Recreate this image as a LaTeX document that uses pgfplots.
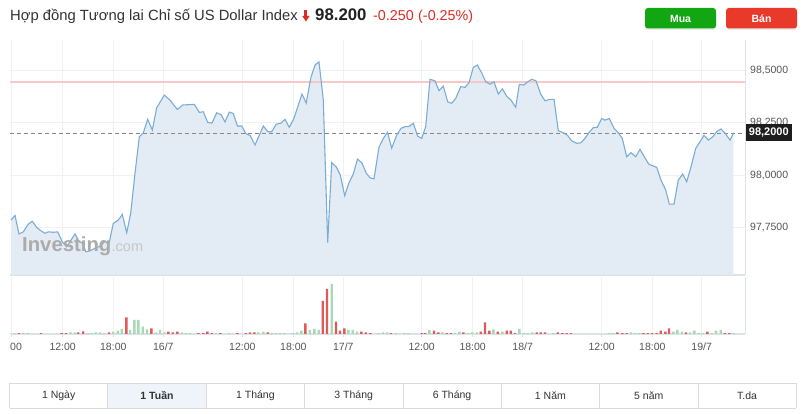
\documentclass[border=0pt]{standalone}
\usepackage{pgfplots}
\pgfplotsset{compat=1.18}
\usepackage{pgfplotstable}
\usepackage{fontspec}
\setmainfont{Liberation Sans}
\definecolor{linecol}{HTML}{7AADD6}
\definecolor{fillcol}{HTML}{E3ECF4}
\definecolor{redline}{HTML}{F7C8C8}
\definecolor{dashcol}{HTML}{888888}
\definecolor{gridcol}{HTML}{F1F1F1}
\definecolor{axisgrey}{HTML}{DDE2E6}
\definecolor{bordergrey}{HTML}{E2E2E2}
\definecolor{ticktext}{HTML}{555555}
\definecolor{volgreen}{HTML}{A6D9B4}
\definecolor{volred}{HTML}{E05A5A}
\definecolor{titlecol}{HTML}{333333}
\definecolor{pricecol}{HTML}{222222}
\definecolor{chgred}{HTML}{DC2B22}
\definecolor{buygreen}{HTML}{12A712}
\definecolor{sellred}{HTML}{E9392B}
\definecolor{pricebox}{HTML}{1E1E1E}
\definecolor{cellborder}{HTML}{DADADA}
\definecolor{cellsel}{HTML}{EEF4FA}
\definecolor{wmgrey}{HTML}{ABABAB}
\definecolor{wmlight}{HTML}{C6C6C6}

\pgfplotstableread{
x y
11 97.787
15 97.809
19 97.721
23.3 97.731
28.3 97.768
32.3 97.781
36.7 97.752
41 97.736
45 97.724
48.3 97.731
53.3 97.729
57.7 97.731
62.3 97.684
66.7 97.660
71 97.692
75 97.721
79 97.684
82 97.680
86 97.636
90 97.641
95 97.653
100 97.663
105 97.686
109 97.676
113.3 97.771
118.3 97.787
122.3 97.814
126.7 97.727
130.7 97.819
135 98.009
139.3 98.183
143.3 98.202
147.7 98.266
152.3 98.215
156.7 98.321
164.3 98.381
170 98.357
177.3 98.313
182.7 98.334
194.3 98.337
199.3 98.299
203.3 98.302
207.7 98.251
212 98.248
216.7 98.297
221 98.288
225 98.254
229.3 98.300
233.3 98.294
237.5 98.234
241.7 98.234
245.7 98.199
250.3 98.188
255 98.144
263.3 98.234
268 98.207
271.7 98.207
276.3 98.243
280.8 98.247
285 98.266
289.2 98.228
293.7 98.267
302 98.386
306.2 98.343
310.8 98.463
315 98.524
319 98.539
323.3 98.359
327.7 97.680
331.7 98.060
336.3 98.039
340.3 98.001
344.7 97.903
349 97.965
353.3 98.006
357.5 98.077
362 98.058
366.3 98.010
370 97.988
374 97.983
379 98.133
383.3 98.175
387.5 98.205
391.7 98.129
396.7 98.191
401 98.223
405 98.231
409 98.232
413.3 98.247
417.7 98.186
421.7 98.175
425.7 98.231
430 98.456
435 98.449
439 98.402
443.3 98.424
447.7 98.349
451.7 98.342
455.7 98.365
460.7 98.421
465 98.418
469 98.440
473.3 98.513
477.3 98.524
481.7 98.487
485.7 98.444
490 98.433
494 98.444
498.3 98.386
502.3 98.411
506.7 98.376
511 98.357
515.7 98.323
519.3 98.432
523.7 98.429
527.7 98.444
531.7 98.456
536 98.449
540.7 98.386
545 98.354
550 98.361
554 98.361
558.3 98.212
563.3 98.202
567.3 98.191
571.7 98.164
576.7 98.152
580.7 98.154
585 98.175
589.3 98.205
593.3 98.226
597.3 98.228
601.7 98.270
605 98.262
609.3 98.270
614 98.223
618.3 98.202
622.3 98.175
626.7 98.088
631 98.107
635.7 98.088
640 98.123
644.3 98.088
648.7 98.053
653.3 98.044
656.7 98.038
661 97.977
665.7 97.930
669.3 97.863
674 97.863
678.3 97.977
682.7 98.006
686.7 97.969
691 98.040
695.7 98.128
699.3 98.154
704 98.190
708.3 98.167
712.7 98.183
716.7 98.207
721 98.220
725.7 98.196
730 98.167
733.3 98.199
}\price

\pgfplotstableread{
x v
14.3 0.8
23.3 0.8
27.7 0.8
70.7 1.7
75 1.7
87.7 0.8
91.7 0.8
95.7 1.7
100 1.7
104.3 0.8
113.3 2.3
117.7 3.3
121.7 5
130 4
134.3 14
138.3 14
142.7 7.3
147 4.7
155.7 1.7
160 4
164.3 1.7
181.7 1.7
186 0.8
190.3 0.8
216 0.8
229 0.8
258.3 1.7
263.3 2.3
271.7 0.8
275.7 0.8
280 0.8
284.3 0.8
292.7 0.8
297 1.7
301.3 3.3
309.7 4
314.3 5
318.7 4
331.7 50
348.3 4
352.7 4
357 2.3
378.3 0.8
382.7 1.7
387.3 1.7
396 0.8
404.3 0.8
408.3 0.8
429.3 4
442.3 1.7
455 0.8
459.3 2.3
467.7 0.8
472.3 1.7
476.7 1.7
493.3 4.7
502.3 2.3
519.3 5
524 0.8
527.7 0.8
532.3 1.7
553.3 0.8
609.3 0.8
613.3 0.8
631 1.7
635 0.8
639.3 0.8
673.3 2.3
677.3 4
682 2.3
690 1.7
694.3 3.3
698.7 0.8
702.7 0.8
711.7 0.8
716 3.3
720.7 4
733.3 0.8
}\volup

\pgfplotstableread{
x v
19 0.8
41 0.8
61.7 0.8
66 0.8
78.3 1.7
83.3 2.7
109 1.7
126.3 16.7
151.3 5.7
168.3 2.3
172.7 1.7
177.3 2.3
198.3 0.8
203.3 0.8
207.3 2.3
211.7 0.8
220.3 0.8
237.3 0.8
245.7 0.8
250 1.7
254.3 1.7
267.7 1.7
305.3 10.7
322.7 33
327 45
336 12.3
340 3.3
344.3 5.7
361.3 2.3
365.7 1.7
370.3 0.8
391 0.8
421.7 0.8
425 0.8
434 3.3
438.3 1.7
446.7 0.8
451 0.8
463.3 1.7
480.7 2.3
485 11.7
489.3 3.3
497.7 2.3
506.7 3.3
510.7 3.3
515 0.8
536.7 1.7
540.7 1.7
545 1.7
557.7 1.7
562.3 0.8
566.7 0.8
571 0.8
617.3 1.7
622.3 0.8
626.7 0.8
643.3 0.8
647.7 0.8
652 0.8
656.7 0.8
660.7 3.3
665.3 2.3
669 5.7
686 1.7
707.3 2.3
724.7 0.8
729.3 0.8
}\voldown

\begin{document}
\begin{tikzpicture}[x=1pt,y=1pt]
\useasboundingbox (0,0) rectangle (807,414);
\fill[white] (0,0) rectangle (807,414);

% ---- title ----
\node[anchor=base west, inner sep=0pt, font=\fontsize{14.8}{17}\selectfont, text=titlecol] at (10,393) {Hợp đồng Tương lai Chỉ số US Dollar Index};
\fill[chgred] (304.4,403.5) rectangle (307.4,397.5);
\fill[chgred] (302.3,398) -- (309.5,398) -- (305.9,392.5) -- cycle;
\node[anchor=base west, inner sep=0pt, font=\bfseries\fontsize{16.8}{19}\selectfont, text=pricecol] at (315,393) {98.200};
\node[anchor=base west, inner sep=0pt, font=\fontsize{14.3}{16}\selectfont, text=chgred] at (373,393) {-0.250\hspace{4.5pt}(-0.25\%)};

% ---- buttons ----
\fill[black!8, rounded corners=3pt] (645,384) rectangle (716,405);
\fill[buygreen, rounded corners=3pt] (645,385.5) rectangle (716,406);
\node[text=white, font=\bfseries\fontsize{10.5}{12}\selectfont] at (680.5,395.5) {Mua};
\fill[black!8, rounded corners=3pt] (726,384) rectangle (797,405);
\fill[sellred, rounded corners=3pt] (726,385.5) rectangle (797,406);
\node[text=white, font=\bfseries\fontsize{10.5}{12}\selectfont] at (761.5,395.5) {Bán};

% ---- main price panel ----
\begin{axis}[
  at={(10pt,139pt)}, anchor=south west,
  scale only axis, width=735pt, height=235pt,
  xmin=10, xmax=745, ymin=97.526, ymax=98.643,
  axis x line*=bottom, axis y line*=right,
  x axis line style={-, draw=axisgrey, line width=2.5pt},
  y axis line style={-, draw=bordergrey, line width=0.8pt},
  xtick={11.7,62.7,113.3,163.3,242.3,293.3,343.3,421.7,472.7,522.7,601.7,652.3,701.7},
  xticklabels={},
  ytick={97.75,98,98.25,98.5},
  yticklabel pos=right,
  yticklabel={\pgfmathprintnumber[fixed,fixed zerofill,precision=4,use comma]{\tick}},
  yticklabel style={font=\fontsize{10.5}{12}\selectfont, text=ticktext, anchor=west, inner sep=0pt, xshift=5pt},
  /pgf/number format/assume math mode=true,
  major tick length=0pt,
  xmajorgrids, ymajorgrids,
  grid style={draw=gridcol, line width=0.8pt},
]
\addplot[fill=fillcol, draw=none] table[x=x,y=y] {\price} -- (axis cs:733.3,97.4) -- (axis cs:11,97.4) -- cycle;
\addplot[redline, line width=1.6pt] coordinates {(10,98.443) (745,98.443)};
\addplot[dashcol, line width=1.3pt, dash pattern=on 4pt off 3pt] coordinates {(10,98.2) (745,98.2)};
\addplot[linecol, line width=1.1pt] table[x=x,y=y] {\price};
\end{axis}

% watermark
\node[anchor=base west, inner sep=0pt, font=\bfseries\fontsize{20.3}{22}\selectfont, text=wmgrey] (wm) at (22,162.5) {Investing};
\node[anchor=base west, inner sep=0pt, font=\fontsize{14.5}{16}\selectfont, text=wmlight] at (wm.base east) {.com};

% current price box
\node[fill=pricebox, text=white, font=\bfseries\fontsize{11}{13}\selectfont, inner xsep=3pt, inner ysep=0pt, minimum height=17pt, anchor=west] at (745.7,281.5) {98,2000};

% ---- volume panel ----
\begin{axis}[
  at={(10pt,80pt)}, anchor=south west,
  scale only axis, width=735pt, height=57pt,
  xmin=10, xmax=745, ymin=0, ymax=57,
  axis x line*=bottom, axis y line*=right,
  x axis line style={-, draw=axisgrey, line width=1.5pt},
  y axis line style={-, draw=bordergrey, line width=0.8pt},
  ytick=\empty,
  xtick={11.7,62.7,113.3,163.3,242.3,293.3,343.3,421.7,472.7,522.7,601.7,652.3,701.7},
  xticklabels={\phantom{0:}00,12:00,18:00,16/7,12:00,18:00,17/7,12:00,18:00,18/7,12:00,18:00,19/7},
  xticklabel style={font=\fontsize{10.5}{12}\selectfont, text=ticktext, anchor=north, inner sep=0pt, yshift=-5.5pt},
  /pgf/number format/assume math mode=true,
  tick align=outside, major tick length=3pt,
  xtick style={draw=axisgrey, line width=0.8pt},
  xmajorgrids,
  grid style={draw=gridcol, line width=0.8pt},
]
\addplot[ybar, bar width=2.4pt, bar shift=0pt, fill=volgreen, draw=none] table[x=x,y=v] {\volup};
\addplot[ybar, bar width=2.4pt, bar shift=0pt, fill=volred, draw=none] table[x=x,y=v] {\voldown};
\end{axis}

% ---- period selector ----
\fill[cellsel] (107.85,6) rectangle (206.2,31);
\foreach \i in {0,...,8} {
  \draw[cellborder, line width=0.8pt] ({9.5+\i*98.35},6) -- ({9.5+\i*98.35},31);
}
\draw[cellborder, line width=0.8pt] (9.5,6) -- (796.3,6);
\draw[cellborder, line width=0.8pt] (9.5,31) -- (796.3,31);
\foreach \lab [count=\i from 0] in {1 Ngày,\textbf{1 Tuần},1 Tháng,3 Tháng,6 Tháng,1 Năm,5 năm,T.da} {
  \node[font=\fontsize{10.5}{12}\selectfont, text=titlecol] at ({9.5+\i*98.35+49.175},18.5) {\lab};
}
\end{tikzpicture}
\end{document}
